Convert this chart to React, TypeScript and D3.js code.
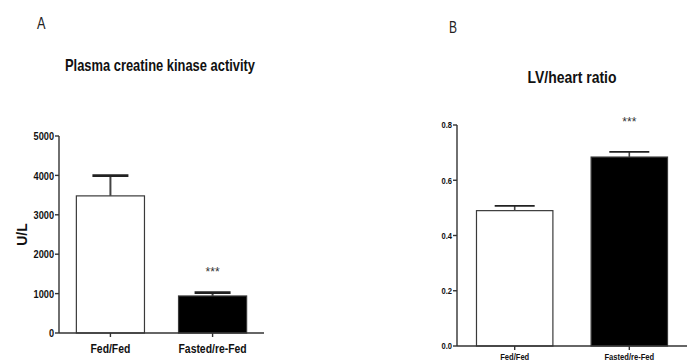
import { useMemo } from "react";
import * as d3 from "d3";

const groups = ["Fed/Fed", "Fasted/re-Fed"];
const barFills = ["#ffffff", "#000000"];

// panel A: plasma creatine kinase (U/L)
const ckMeans = [3480, 940];
const ckSem = [515, 85];
const ckTicks = [0, 1000, 2000, 3000, 4000, 5000];

// panel B: LV/heart ratio
const lvMeans = [0.49, 0.684];
const lvSem = [0.017, 0.019];
const lvTicks = [0, 0.2, 0.4, 0.6, 0.8];

const signif = ["", "***"];

const FONT = "'Liberation Sans', Arial, sans-serif";

// narrow text: no condensed font installed, so squeeze horizontally
const Txt = ({ x, y, sx = 0.8, children, ...rest }: any) => (
  <g transform={`translate(${x},${y}) scale(${sx},1)`}>
    <text x={0} y={0} {...rest}>
      {children}
    </text>
  </g>
);

type PanelProps = {
  letter: string;
  letterPos: [number, number];
  letterSize: number;
  title: string;
  titlePos: [number, number];
  titleSize: number;
  titleLen: number;
  yLabel?: string;
  yLabelX?: number;
  means: number[];
  sem: number[];
  ticks: number[];
  tickFmt: (d: number) => string;
  tickSize: number;
  xLabelSize: number;
  xLabelY: number;
  starY: number;
  x0: number;
  x1: number;
  y0: number;
  y1: number;
  capW: number;
  errW: number;
  capSW: number;
};

const Panel = (p: PanelProps) => {
  const y = useMemo(
    () => d3.scaleLinear().domain([0, p.ticks[p.ticks.length - 1]]).range([p.y0, p.y1]),
    [p.ticks, p.y0, p.y1],
  );
  const x = useMemo(
    () => d3.scaleBand().domain(groups).range([p.x0, p.x1]).paddingInner(1 / 3).paddingOuter(0.17),
    [p.x0, p.x1],
  );
  const bw = x.bandwidth();
  const cx = (g: string) => (x(g) as number) + bw / 2;

  return (
    <g fontFamily={FONT}>
      <Txt x={p.letterPos[0]} y={p.letterPos[1]} sx={0.75} fontSize={p.letterSize} fill="#222">
        {p.letter}
      </Txt>
      <text
        x={p.titlePos[0]}
        y={p.titlePos[1]}
        textAnchor="middle"
        fontWeight="bold"
        fontSize={p.titleSize}
        textLength={p.titleLen}
        lengthAdjust="spacingAndGlyphs"
        fill="#111"
      >
        {p.title}
      </text>
      {p.yLabel && (
        <text
          transform={`translate(${p.yLabelX},${(p.y0 + p.y1) / 2}) rotate(-90)`}
          textAnchor="middle"
          fontWeight="bold"
          fontSize={14}
          fill="#111"
        >
          {p.yLabel}
        </text>
      )}

      {/* bars */}
      {groups.map((g, i) => (
        <rect
          key={g}
          x={x(g)}
          y={y(p.means[i])}
          width={bw}
          height={y(0) - y(p.means[i])}
          fill={barFills[i]}
          stroke="#3a3a3a"
          strokeWidth={1.2}
        />
      ))}

      {/* error bars (upper only) */}
      {groups.map((g, i) => {
        const top = y(p.means[i] + p.sem[i]);
        return (
          <g key={g} stroke="#222">
            <line x1={cx(g)} x2={cx(g)} y1={y(p.means[i])} y2={top} strokeWidth={p.errW} stroke="#444" />
            <line x1={cx(g) - p.capW / 2} x2={cx(g) + p.capW / 2} y1={top} y2={top} strokeWidth={p.capSW} />
          </g>
        );
      })}

      {groups.map((g, i) =>
        signif[i] ? (
          <text key={g} x={cx(g)} y={p.starY} textAnchor="middle" fontSize={12} fill="#333">
            {signif[i]}
          </text>
        ) : null,
      )}

      {/* y axis */}
      <line x1={p.x0} x2={p.x0} y1={p.y0} y2={p.y1} stroke="#333" strokeWidth={1.4} />
      {p.ticks.map((t) => (
        <g key={t}>
          <line x1={p.x0 - 4} x2={p.x0} y1={y(t)} y2={y(t)} stroke="#333" strokeWidth={1.4} />
          <Txt
            x={p.x0 - 5}
            y={y(t)}
            dy="0.36em"
            textAnchor="end"
            fontWeight="bold"
            fontSize={p.tickSize}
            fill="#111"
          >
            {p.tickFmt(t)}
          </Txt>
        </g>
      ))}

      {/* x axis */}
      <line x1={p.x0} x2={p.x1} y1={p.y0} y2={p.y0} stroke="#333" strokeWidth={1.4} />
      {groups.map((g) => (
        <g key={g}>
          <line x1={cx(g)} x2={cx(g)} y1={p.y0} y2={p.y0 + 4} stroke="#333" strokeWidth={1.4} />
          <Txt
            x={cx(g)}
            y={p.xLabelY}
            textAnchor="middle"
            fontWeight="bold"
            fontSize={p.xLabelSize}
            fill="#111"
          >
            {g}
          </Txt>
        </g>
      ))}
    </g>
  );
};

export default function App() {
  return (
    <svg
      width={697}
      height={362}
      style={{ position: "absolute", left: 0, top: 0, background: "#fff" }}
    >
      <Panel
        letter="A"
        letterPos={[37, 29]}
        letterSize={17}
        title="Plasma creatine kinase activity"
        titlePos={[160, 71]}
        titleSize={17}
        titleLen={190}
        yLabel="U/L"
        yLabelX={27}
        means={ckMeans}
        sem={ckSem}
        ticks={ckTicks}
        tickFmt={(d) => String(d)}
        tickSize={11.5}
        xLabelSize={13}
        xLabelY={353}
        starY={276}
        x0={59}
        x1={264}
        y0={333}
        y1={136}
        capW={36}
        errW={2}
        capSW={2.6}
      />
      <Panel
        letter="B"
        letterPos={[449, 33]}
        letterSize={16}
        title="LV/heart ratio"
        titlePos={[572, 82.5]}
        titleSize={17}
        titleLen={89}
        means={lvMeans}
        sem={lvSem}
        ticks={lvTicks}
        tickFmt={d3.format(".1f")}
        tickSize={9.5}
        xLabelSize={9.5}
        xLabelY={360}
        starY={126}
        x0={457}
        x1={687}
        y0={346}
        y1={125}
        capW={40}
        errW={1.6}
        capSW={1.8}
      />
    </svg>
  );
}
